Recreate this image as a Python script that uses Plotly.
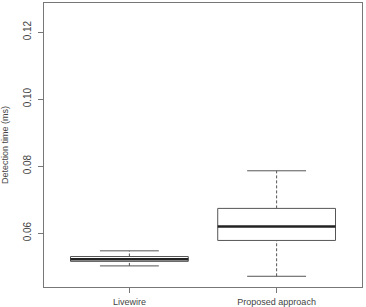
import plotly.graph_objects as go

categories = ["Livewire", "Proposed approach"]
positions = [1, 2]
lower_whisker = [0.0502, 0.0471]
q1 = [0.05155, 0.0578]
median = [0.05215, 0.0620]
q3 = [0.0530, 0.06737]
upper_whisker = [0.0547, 0.0786]
y_ticks = [0.06, 0.08, 0.10, 0.12]
y_tick_labels = ["0.06", "0.08", "0.10", "0.12"]

box_w = 0.8
cap_w = 0.4
line_col = "#555555"
text_col = "#444444"

fig = go.Figure()

for i, x in enumerate(positions):
    # dashed whiskers
    fig.add_trace(go.Scatter(x=[x, x], y=[q3[i], upper_whisker[i]], mode="lines",
                             line=dict(color=line_col, width=1, dash="3px,2px"),
                             showlegend=False, hoverinfo="skip"))
    fig.add_trace(go.Scatter(x=[x, x], y=[lower_whisker[i], q1[i]], mode="lines",
                             line=dict(color=line_col, width=1, dash="3px,2px"),
                             showlegend=False, hoverinfo="skip"))
    # caps
    for yv in (upper_whisker[i], lower_whisker[i]):
        fig.add_trace(go.Scatter(x=[x - cap_w / 2, x + cap_w / 2], y=[yv, yv], mode="lines",
                                 line=dict(color=line_col, width=1),
                                 showlegend=False, hoverinfo="skip"))
    # box
    fig.add_trace(go.Scatter(x=[x - box_w / 2, x + box_w / 2, x + box_w / 2, x - box_w / 2, x - box_w / 2],
                             y=[q1[i], q1[i], q3[i], q3[i], q1[i]], mode="lines",
                             fill="toself", fillcolor="white",
                             line=dict(color=line_col, width=1),
                             showlegend=False, hoverinfo="skip"))
    # median
    fig.add_trace(go.Scatter(x=[x - box_w / 2, x + box_w / 2], y=[median[i], median[i]], mode="lines",
                             line=dict(color="#222222", width=2.5),
                             showlegend=False, hoverinfo="skip"))

fig.update_layout(
    width=366, height=307,
    margin=dict(l=44, r=4, t=3, b=20),
    plot_bgcolor="white", paper_bgcolor="white",
    font=dict(family="Liberation Sans, Arial, sans-serif", size=9, color=text_col),
    xaxis=dict(range=[0.42, 2.58], tickvals=positions, ticktext=categories,
               ticks="outside", ticklen=5, tickcolor="#777777", showgrid=False, zeroline=False,
               showline=True, mirror=True, linecolor="#777777", linewidth=1,
               ticklabelstandoff=1, automargin=False),
    yaxis=dict(range=[0.0439, 0.1287], tickvals=y_ticks, ticktext=y_tick_labels,
               tickangle=-90, ticks="outside", ticklen=5, tickcolor="#777777",
               tickfont=dict(size=10), ticklabelstandoff=3, automargin=False,
               showgrid=False, zeroline=False, showline=True, mirror=True,
               linecolor="#777777", linewidth=1,
               title=dict(text="Detection time (ms)", standoff=12, font=dict(size=9))),
)

fig.write_html("out.html")
